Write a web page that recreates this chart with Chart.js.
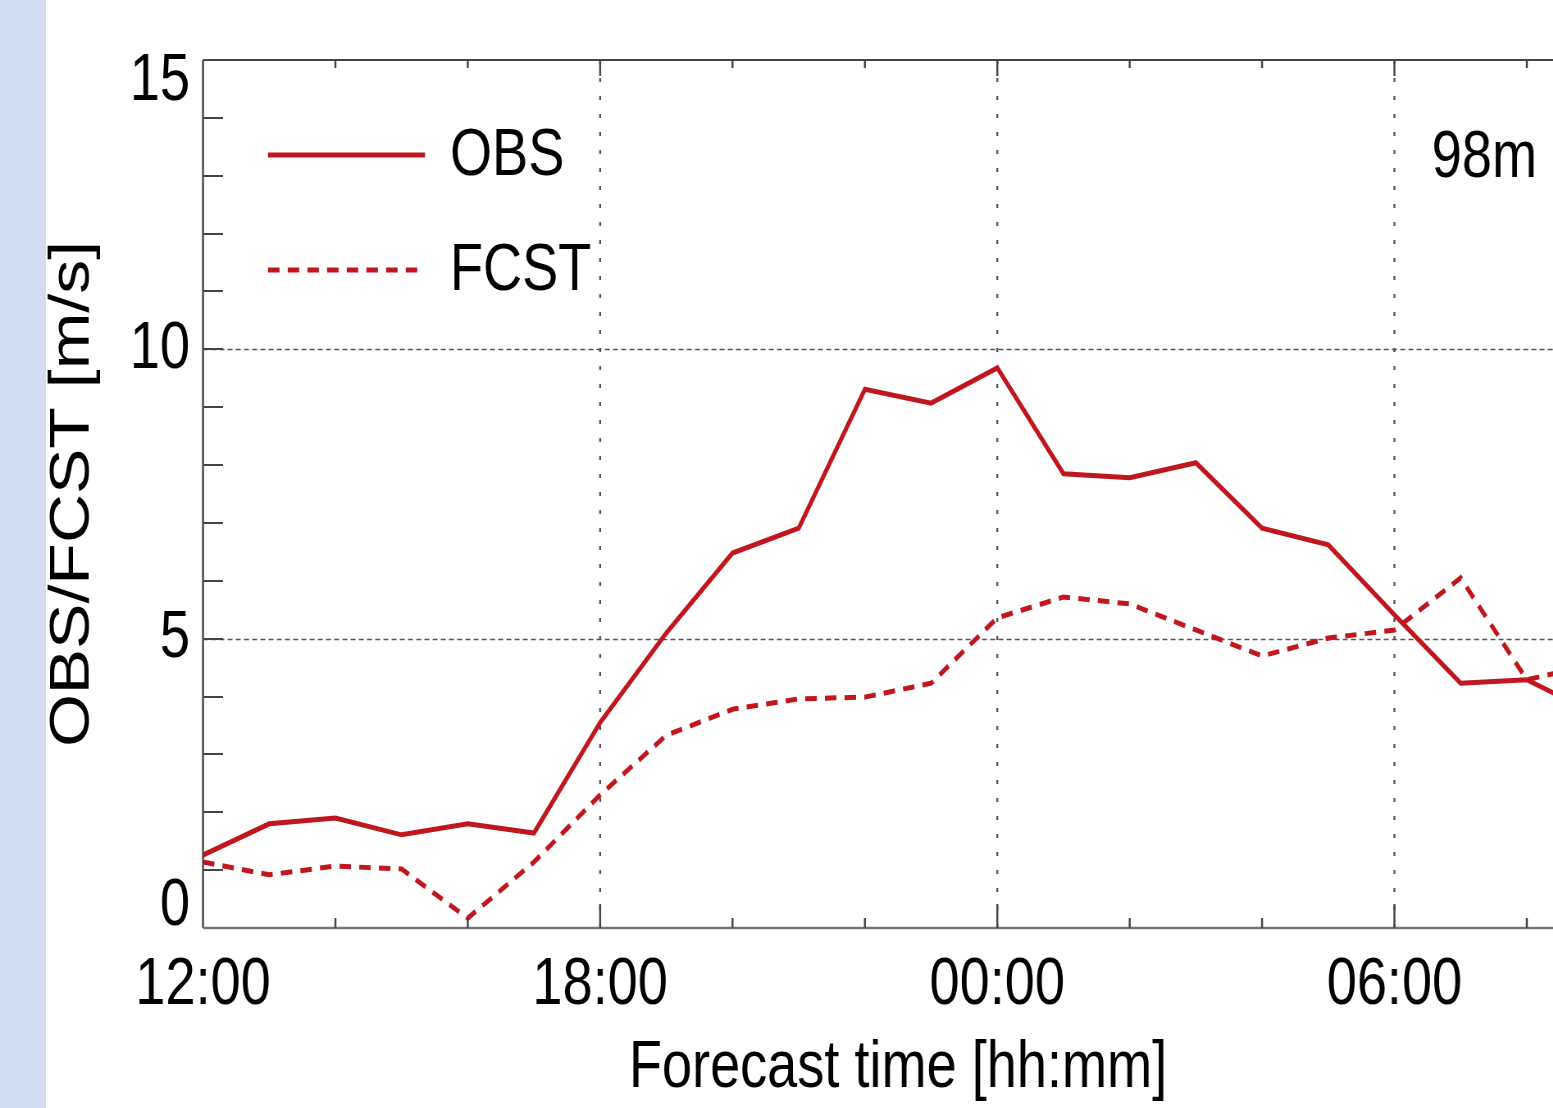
<!DOCTYPE html>
<html lang="en">
<head>
    <meta charset="UTF-8">
    <title>OBS / FCST wind speed 98m</title>
    <script src="https://cdn.jsdelivr.net/npm/chart.js"></script>
    <style>
        html, body { margin: 0; padding: 0; background: #fff; overflow: hidden; width: 1553px; height: 1108px; }
        #strip { position: absolute; left: 0; top: 0; width: 46px; height: 1108px; background: #d3ddf0; z-index: 2; }
        /* the original figure is a narrow Helvetica plot, so the canvas is squeezed horizontally */
        #windChart { position: absolute; left: 0; top: 0; display: block; transform: scaleX(0.82); transform-origin: 0 0; }
    </style>
</head>
<body>
    <div id="strip"></div>
    <canvas id="windChart" width="2000" height="1108"></canvas>

    <script>
        // hours after 12:00
        const hours = [0, 1, 2, 3, 4, 5, 6, 7, 8, 9, 10, 11, 12, 13, 14, 15, 16, 17, 18, 19, 20, 21];
        const obsSpeed = [1.26, 1.80, 1.90, 1.61, 1.80, 1.64, 3.55, 5.10, 6.48, 6.91, 9.31, 9.07, 9.68, 7.85, 7.78, 8.04, 6.91, 6.62, 5.41, 4.23, 4.29, 3.72];
        const fcstSpeed = [1.14, 0.92, 1.07, 1.02, 0.17, 1.14, 2.30, 3.33, 3.78, 3.96, 3.99, 4.23, 5.36, 5.72, 5.60, 5.15, 4.70, 5.01, 5.15, 6.05, 4.29, 4.55];
        const timeLabels = ['12:00', '18:00', '00:00', '06:00'];
        const yTickLabels = ['0', '5', '10', '15'];
        const heightLabel = '98m';

        const SX = 0.82;              // horizontal squeeze of the canvas
        const sx = v => v / SX;       // screen x -> canvas x
        const FONT = "'Liberation Sans', Arial, Helvetica, sans-serif";
        const RED = '#c0161e';

        // grid, inner ticks, frame, legend and y labels
        const framePlugin = {
            id: 'frame',
            beforeDatasetsDraw(chart) {
                const { ctx, chartArea: a, scales: { x, y } } = chart;
                ctx.save();
                ctx.strokeStyle = '#555';
                // horizontal grid at 5 and 10
                ctx.lineWidth = 1.6;
                ctx.setLineDash([6, 4]);
                [5, 10].forEach(v => {
                    const py = Math.round(y.getPixelForValue(v)) + 0.5;
                    ctx.beginPath(); ctx.moveTo(a.left, py); ctx.lineTo(a.right, py); ctx.stroke();
                });
                // vertical grid every 6 hours
                ctx.lineWidth = 2.4;
                ctx.setLineDash([4, 14]);
                [6, 12, 18].forEach(v => {
                    const px = x.getPixelForValue(v);
                    ctx.beginPath(); ctx.moveTo(px, a.top); ctx.lineTo(px, a.bottom); ctx.stroke();
                });
                ctx.restore();
            },
            afterDatasetsDraw(chart) {
                const { ctx, chartArea: a, scales: { x, y } } = chart;
                ctx.save();
                ctx.setLineDash([]);
                // frame
                ctx.strokeStyle = '#444';
                ctx.lineWidth = 2;
                ctx.beginPath(); ctx.moveTo(a.left, a.top); ctx.lineTo(a.right, a.top); ctx.stroke();
                ctx.lineWidth = 2.4;
                ctx.beginPath(); ctx.moveTo(a.left, a.top); ctx.lineTo(a.left, a.bottom); ctx.stroke();
                ctx.strokeStyle = '#777';
                ctx.lineWidth = 2.5;
                ctx.beginPath(); ctx.moveTo(a.left, a.bottom); ctx.lineTo(a.right, a.bottom); ctx.stroke();

                // y ticks every 1 m/s
                ctx.strokeStyle = '#444';
                ctx.lineWidth = 2;
                for (let v = y.min + 1; v < y.max; v++) {
                    const py = Math.round(y.getPixelForValue(v));
                    ctx.beginPath(); ctx.moveTo(a.left, py); ctx.lineTo(a.left + sx(20), py); ctx.stroke();
                }
                // x ticks every 2 hours
                ctx.lineWidth = 2.4;
                for (let v = x.min + 2; v < x.max; v += 2) {
                    const px = x.getPixelForValue(v);
                    const major = v % 6 === 0;
                    ctx.beginPath();
                    ctx.moveTo(px, a.bottom); ctx.lineTo(px, a.bottom - (major ? 24 : 10));
                    ctx.moveTo(px, a.top); ctx.lineTo(px, a.top + (major ? 16 : 8));
                    ctx.stroke();
                }

                // y labels, end labels kept inside the frame
                ctx.fillStyle = '#000';
                ctx.font = '66px ' + FONT;
                ctx.textAlign = 'right';
                ctx.textBaseline = 'middle';
                y.ticks.forEach((t, i) => {
                    let py = y.getPixelForValue(t.value);
                    if (t.value === y.max) py += 22;
                    if (t.value === y.min) py -= 21;
                    ctx.fillText(yTickLabels[i], a.left - sx(13), py);
                });

                // legend
                ctx.textAlign = 'left';
                chart.data.datasets.forEach((ds, i) => {
                    const ly = 155 + i * 115;
                    ctx.strokeStyle = ds.borderColor;
                    ctx.lineWidth = ds.borderWidth;
                    ctx.setLineDash(ds.borderDash || []);
                    ctx.beginPath(); ctx.moveTo(sx(268), ly); ctx.lineTo(sx(425), ly); ctx.stroke();
                    ctx.fillText(ds.label, sx(450), ly + 2);
                });

                // height label
                ctx.textAlign = 'right';
                ctx.fillText(heightLabel, a.right - sx(56), 159);
                ctx.restore();
            }
        };

        const ctx = document.getElementById('windChart').getContext('2d');
        new Chart(ctx, {
            type: 'line',
            data: {
                datasets: [{
                    label: 'OBS',
                    data: hours.map((h, i) => ({ x: h, y: obsSpeed[i] })),
                    borderColor: RED,
                    borderWidth: 5,
                    pointRadius: 0,
                    tension: 0,
                }, {
                    label: 'FCST',
                    data: hours.map((h, i) => ({ x: h, y: fcstSpeed[i] })),
                    borderColor: RED,
                    borderWidth: 5,
                    borderDash: [14, 10],
                    pointRadius: 0,
                    tension: 0,
                }]
            },
            options: {
                responsive: false,
                animation: false,
                layout: { padding: { left: 0, top: 60, right: 2000 - sx(1593), bottom: 0 } },
                plugins: {
                    legend: { display: false },
                    tooltip: { enabled: false },
                },
                scales: {
                    x: {
                        type: 'linear',
                        min: 0,
                        max: 21,
                        afterFit: s => { s.height = 180; },
                        grid: { display: false, drawTicks: false },
                        border: { display: false },
                        ticks: {
                            stepSize: 6,
                            includeBounds: false,
                            autoSkip: false,
                            maxRotation: 0,
                            padding: 18,
                            color: '#000',
                            font: { family: FONT, size: 66 },
                            callback: v => timeLabels[v / 6] || '',
                        },
                        title: {
                            display: true,
                            text: 'Forecast time [hh:mm]',
                            color: '#000',
                            font: { family: FONT, size: 66 },
                            padding: { top: 0, bottom: 0 },
                        },
                    },
                    y: {
                        min: 0,
                        max: 15,
                        afterFit: s => { s.width = sx(203); },
                        grid: { display: false, drawTicks: false },
                        border: { display: false },
                        ticks: { display: false, stepSize: 5 },
                        title: {
                            display: true,
                            text: 'OBS/FCST [m/s]',
                            color: '#000',
                            font: { family: FONT, size: 68 },
                            padding: { top: sx(73) - 41, bottom: 0 },
                        },
                    },
                },
            },
            plugins: [framePlugin],
        });
    </script>
</body>
</html>
